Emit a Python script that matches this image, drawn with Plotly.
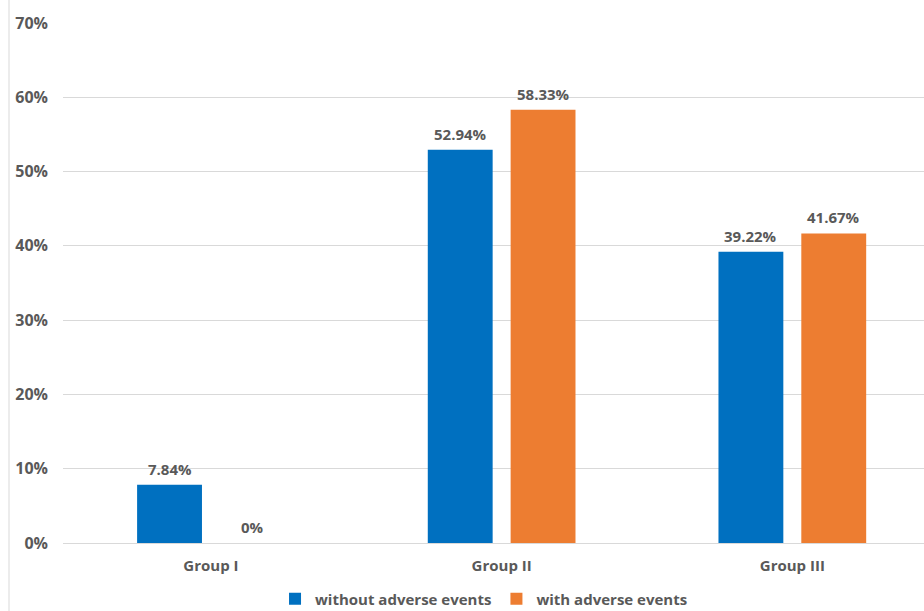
import plotly.graph_objects as go

categories = ["Group I", "Group II", "Group III"]
without_ae = [7.84, 52.94, 39.22]
with_ae = [0.0, 58.33, 41.67]
without_labels = ["7.84%", "52.94%", "39.22%"]
with_labels = ["0%", "58.33%", "41.67%"]
y_ticks = [0, 10, 20, 30, 40, 50, 60, 70]
y_tick_labels = ["0%", "10%", "20%", "30%", "40%", "50%", "60%", "70%"]

BLUE = "#0070C0"
ORANGE = "#ED7D31"
TXT = "#595959"
FONT = "Open Sans"

bargap = 0.43
slot = (1 - bargap) / 2

fig = go.Figure()
fig.add_trace(go.Bar(name="without adverse events", x=categories, y=without_ae,
                     marker_color=BLUE, marker_line_width=0))
fig.add_trace(go.Bar(name="with adverse events", x=categories, y=with_ae,
                     marker_color=ORANGE, marker_line_width=0))

annotations = []
for i, (v, t) in enumerate(zip(without_ae, without_labels)):
    annotations.append(dict(x=i - slot / 2, y=v, text=t, showarrow=False,
                            xref="x", yref="y", yanchor="bottom", yshift=4,
                            font=dict(family=FONT, size=15, color=TXT, weight="bold")))
for i, (v, t) in enumerate(zip(with_ae, with_labels)):
    annotations.append(dict(x=i + slot / 2, y=v, text=t, showarrow=False,
                            xref="x", yref="y", yanchor="bottom", yshift=4,
                            font=dict(family=FONT, size=15, color=TXT, weight="bold")))

fig.update_layout(
    width=924, height=611,
    margin=dict(l=63, r=0, t=23, b=68, autoexpand=False),
    paper_bgcolor="white", plot_bgcolor="white",
    barmode="group", bargap=bargap, bargroupgap=0.217,
    font=dict(family=FONT, size=15, color=TXT),
    showlegend=True,
    legend=dict(orientation="h", xref="paper", x=0.489, xanchor="center",
                yref="container", y=(611 - 599) / 611, yanchor="middle",
                font=dict(family=FONT, size=15, color=TXT, weight="bold"),
                traceorder="normal", itemwidth=30),
    annotations=annotations,
    shapes=[dict(type="line", xref="paper", yref="paper",
                 x0=(9 - 63) / 861, x1=(9 - 63) / 861, y0=-0.2, y1=1.1,
                 line=dict(color="#d9d9d9", width=1))],
)
fig.update_xaxes(range=[-0.509, 2.453], showgrid=False, showline=False, zeroline=False,
                 ticks="", ticklabelstandoff=12,
                 tickfont=dict(family=FONT, size=15, color=TXT, weight="bold"))
fig.update_yaxes(range=[0, 70], tickvals=y_ticks, ticktext=y_tick_labels,
                 showgrid=True, gridcolor="#d9d9d9", gridwidth=1,
                 zeroline=True, zerolinecolor="#d9d9d9", zerolinewidth=1,
                 showline=False, ticks="", ticklabelstandoff=14,
                 tickfont=dict(family=FONT, size=16, color=TXT, weight="bold"))

fig.write_html("out.html")
